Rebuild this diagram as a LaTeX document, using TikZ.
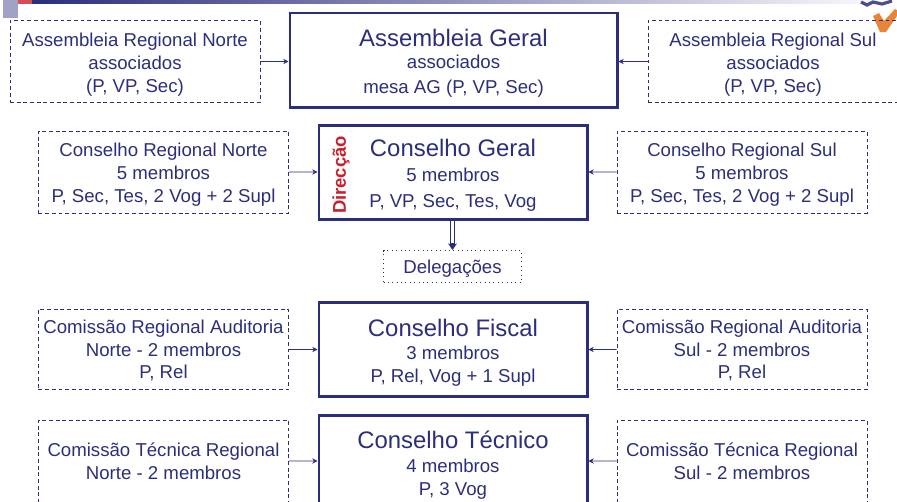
\documentclass[tikz,border=0pt]{standalone}
\usepackage{fontspec}
\setmainfont{Liberation Sans}
\usetikzlibrary{arrows.meta}
\definecolor{azul}{HTML}{2B2E7C}
\definecolor{vermelho}{HTML}{C8202C}
\definecolor{laranja}{HTML}{E8853A}
\newcommand{\titulo}[1]{{\fontsize{13.6pt}{16pt}\selectfont #1}}
\newcommand{\topo}[1]{\rule{0pt}{#1}}
\begin{document}
\begin{tikzpicture}[scale=0.2]
\tikzstyle{every node}+=[inner sep=0pt,text=azul,align=center,font=\fontsize{10.6pt}{13pt}\selectfont]
\tikzstyle{regional}=[draw=azul,line width=0.5pt,dashed,dash pattern=on 2.2pt off 1.6pt,minimum width=5cm,minimum height=1.64cm]
\tikzstyle{conselho}=[draw=azul,line width=1.7pt,minimum width=5.36cm,minimum height=1.88cm]
\tikzstyle{seta}=[draw=azul,line width=0.5pt,-{Stealth[length=3pt,width=3pt]}]
\useasboundingbox (0,0) rectangle (89.7,-50.1);
\clip (0,0) rectangle (89.7,-50.1);
% barra e logotipo
\shade [left color=azul,right color=white] (3.2,0) rectangle (89.7,-0.35);
\fill [azul!45] (0.3,0) rectangle (1.8,-1.75);
\fill [vermelho!80] (1.75,0) rectangle (3.15,-0.35);
\draw [azul!85,line width=1.8pt] (86.1,-0.2) -- (86.7,-0.5) -- (87.3,-0.2) -- (88.2,-0.4) -- (89.2,-0.1);
\fill [laranja] (87.3,-1.6) -- (87.9,-1.3) -- (88.4,-2.1) -- (89.5,-0.9) -- (89.7,-1) -- (89.7,-1.6) -- (88.6,-3.2) -- (88,-3.2) -- cycle;
% assembleia
\draw (45.35,-6) node (ag) [conselho,minimum width=6.54cm] {\topo{13.4pt}\titulo{Assembleia Geral}\\ associados\\[1.1pt] mesa AG (P, VP, Sec)};
\draw (13.5,-6.15) node (arn) [regional] {\topo{11.1pt}Assembleia Regional Norte\\ associados\\ (P, VP, Sec)};
\draw (77.3,-6.15) node (ars) [regional] {\topo{11.1pt}Assembleia Regional Sul\\ associados\\ (P, VP, Sec)};
% conselho geral
\draw (45.3,-17.25) node (cg) [conselho] {\topo{12.8pt}\titulo{Conselho Geral}\\[1.1pt] 5 membros\\[1.7pt] P, VP, Sec, Tes, Vog};
\draw (16.35,-17.2) node (crn) [regional] {\topo{10.5pt}Conselho Regional Norte\\ 5 membros\\ P, Sec, Tes, 2 Vog + 2 Supl};
\draw (74.2,-17.2) node (crs) [regional] {\topo{10.5pt}Conselho Regional Sul\\ 5 membros\\ P, Sec, Tes, 2 Vog + 2 Supl};
\draw (34.1,-17.5) node (dir) [rotate=90,text=vermelho,font=\fontsize{10.5pt}{12pt}\selectfont\bfseries] {Direcção};
\draw (45.25,-26.65) node (del) [draw=azul,line width=0.5pt,dotted,minimum width=2.76cm,minimum height=0.64cm] {\topo{9.8pt}Delegações};
% conselho fiscal
\draw (45.3,-34.95) node (cf) [conselho] {\topo{13.4pt}\titulo{Conselho Fiscal}\\[0.5pt] 3 membros\\ P, Rel, Vog + 1 Supl};
\draw (16.35,-34.95) node (cran) [regional,minimum height=1.6cm] {\topo{8.8pt}Comissão Regional Auditoria\\ Norte - 2 membros\\ P, Rel};
\draw (74.2,-34.95) node (cras) [regional,minimum height=1.6cm] {\topo{8.8pt}Comissão Regional Auditoria\\ Sul - 2 membros\\ P, Rel};
% conselho tecnico
\draw (45.3,-46.2) node (ct) [conselho] {\topo{13.4pt}\titulo{Conselho Técnico}\\[0.5pt] 4 membros\\ P, 3 Vog};
\draw (16.35,-46.1) node (ctn) [regional] {Comissão Técnica Regional\\ Norte - 2 membros};
\draw (74.2,-46.1) node (cts) [regional] {Comissão Técnica Regional\\ Sul - 2 membros};
% setas
\draw [seta] (arn) -- (arn -| ag.west);
\draw [seta] (ars) -- (ars -| ag.east);
\draw [seta] (crn) -- (crn -| cg.west);
\draw [seta] (crs) -- (crs -| cg.east);
\draw [seta] (cran) -- (cran -| cf.west);
\draw [seta] (cras) -- (cras -| cf.east);
\draw [seta] (ctn) -- (ctn -| ct.west);
\draw [seta] (cts) -- (cts -| ct.east);
\draw [azul,line width=2.6pt,-{Stealth[length=3.8pt,width=5pt]}] (cg.south -| del.north) -- (del.north);
\draw [white,line width=1.3pt,shorten >=4pt] (cg.south -| del.north) -- (del.north);
\end{tikzpicture}
\end{document}
